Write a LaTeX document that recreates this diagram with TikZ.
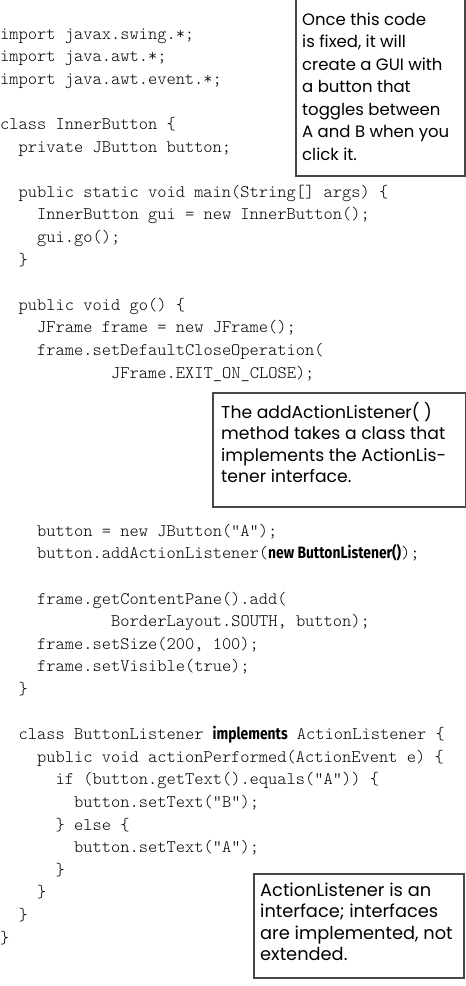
\documentclass[tikz,border=0pt]{standalone}
\usepackage{fontspec}
\newfontfamily\codefont{lmmonolt10-regular.otf}
\newfontfamily\notefont{Poppins}
\newfontfamily\boldsans{Fira Sans}[UprightFont=* Bold]
\newcommand\cw{9.25}
\newcommand\notesize{16.5}
\newcommand\bnew[1]{{\boldsans\fontsize{16.5}{18}\selectfont\scalebox{0.84}[1]{#1}}}
\newcommand\codeln[4]{\node[codetext] (#1) at ({#3*\cw},{-(39+22.6*#2)}) {#4};}
\newcommand\noteln[4]{\node[notetext] (#1) at (#2,-#3) {#4};}
\tikzset{
  codetext/.style={anchor=base west, inner sep=0pt, font=\codefont\fontsize{17.6}{20}\selectfont},
  notetext/.style={anchor=base west, inner sep=0pt, font=\notefont\fontsize{\notesize}{18}\selectfont},
  notebox/.style={draw=black!72, line width=1.6pt, fill=white, inner sep=0pt, anchor=north west}
}
\begin{document}
\begin{tikzpicture}[x=1pt,y=1pt]
\useasboundingbox (0,0) rectangle (466,-986);
\fill[white] (0,0) rectangle (466,-986);
% code
\codeln{l0}{0}{0}{import javax.swing.*;}
\codeln{l1}{1}{0}{import java.awt.*;}
\codeln{l2}{2}{0}{import java.awt.event.*;}
\codeln{l4}{4}{0}{class InnerButton \{}
\codeln{l5}{5}{2}{private JButton button;}
\codeln{l7}{7}{2}{public static void main(String[] args) \{}
\codeln{l8}{8}{4}{InnerButton gui = new InnerButton();}
\codeln{l9}{9}{4}{gui.go();}
\codeln{l10}{10}{2}{\}}
\codeln{l12}{12}{2}{public void go() \{}
\codeln{l13}{13}{4}{JFrame frame = new JFrame();}
\codeln{l14}{14}{4}{frame.setDefaultCloseOperation(}
\codeln{l15}{15}{12}{JFrame.EXIT\_ON\_CLOSE);}
\codeln{l22}{22}{4}{button = new JButton("A");}
\codeln{l23}{23}{4}{button.addActionListener(\bnew{new ButtonListener()});}
\codeln{l25}{25}{4}{frame.getContentPane().add(}
\codeln{l26}{26}{12}{BorderLayout.SOUTH, button);}
\codeln{l27}{27}{4}{frame.setSize(200, 100);}
\codeln{l28}{28}{4}{frame.setVisible(true);}
\codeln{l29}{29}{2}{\}}
\codeln{l31}{31}{2}{class ButtonListener \bnew{implements} ActionListener \{}
\codeln{l32}{32}{4}{public void actionPerformed(ActionEvent e) \{}
\codeln{l33}{33}{6}{if (button.getText().equals("A")) \{}
\codeln{l34}{34}{8}{button.setText("B");}
\codeln{l35}{35}{6}{\} else \{}
\codeln{l36}{36}{8}{button.setText("A");}
\codeln{l37}{37}{6}{\}}
\codeln{l38}{38}{4}{\}}
\codeln{l39}{39}{2}{\}}
\codeln{l40}{40}{0}{\}}
% note 1
\node[notebox, minimum width=169pt, minimum height=178pt] (b1) at (295,3) {};
\noteln{n1a}{302}{25}{Once this code}
\noteln{n1b}{302}{47.5}{is fixed, it will}
\noteln{n1c}{302}{70}{create a GUI with}
\noteln{n1d}{302}{92.5}{a button that}
\noteln{n1e}{302}{115}{toggles between}
\noteln{n1f}{302}{137.5}{A and B when you}
\noteln{n1g}{302}{160}{click it.}
% note 2
\renewcommand\notesize{17.2}
\node[notebox, minimum width=253pt, minimum height=114pt] (b2) at (212,-392) {};
\noteln{n2a}{221}{418}{The addActionListener( )}
\noteln{n2b}{221}{439.5}{method takes a class that}
\noteln{n2c}{221}{461}{implements the ActionLis-}
\noteln{n2d}{221}{482.5}{tener interface.}
% note 3
\renewcommand\notesize{17.8}
\node[notebox, minimum width=210pt, minimum height=104pt] (b3) at (253,-873) {};
\noteln{n3a}{260}{896}{ActionListener is an}
\noteln{n3b}{260}{917.5}{interface; interfaces}
\noteln{n3c}{260}{939}{are implemented, not}
\noteln{n3d}{260}{960.5}{extended.}
\end{tikzpicture}
\end{document}
